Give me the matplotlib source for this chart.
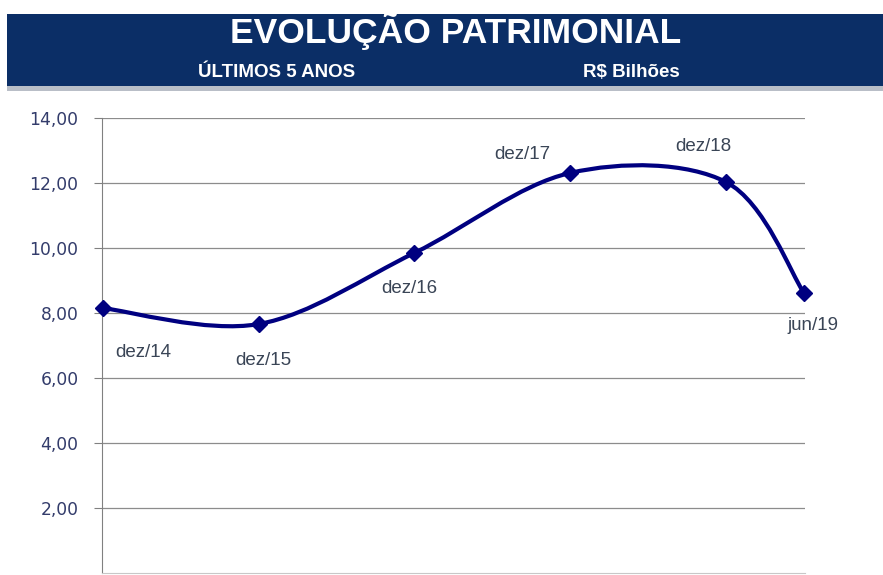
import matplotlib
matplotlib.use("Agg")
import matplotlib.pyplot as plt
from matplotlib.patches import Rectangle, PathPatch
from matplotlib.path import Path

# --- Data (R$ bilhões) ---
periods = ["dez/14", "dez/15", "dez/16", "dez/17", "dez/18", "jun/19"]
positions = [0, 1, 2, 3, 4, 4.5]          # jun/19 is half a year after dez/18
values = [8.15, 7.66, 9.85, 12.31, 12.03, 8.62]
yticks = [2, 4, 6, 8, 10, 12, 14]

# label offsets in pixels (dx, dy) relative to each point
label_offsets = [(40, -44), (5, -36), (-5, -36), (-48, 18), (-23, 36), (9, -33)]

NAVY = "#0b2e66"
LINE = "#000080"
W, H = 883, 575

plt.rcParams["font.family"] = ["Liberation Sans", "DejaVu Sans"]

fig = plt.figure(figsize=(W / 100, H / 100), dpi=100)

# --- Header band ---
fig.patches.append(Rectangle((7 / W, 1 - 91 / H), 1, 5 / H, transform=fig.transFigure,
                             facecolor="#b9bec7", edgecolor="none"))
fig.patches.append(Rectangle((7 / W, 1 - 86 / H), 1, 72 / H, transform=fig.transFigure,
                             facecolor=NAVY, edgecolor="none"))
fig.text(456 / W, 1 - 43 / H, "EVOLUÇÃO PATRIMONIAL", color="white", fontsize=25.5,
         fontweight="bold", ha="center", va="baseline")
fig.text(277 / W, 1 - 77 / H, "ÚLTIMOS 5 ANOS", color="white", fontsize=13.5,
         fontweight="bold", ha="center", va="baseline")
fig.text(631 / W, 1 - 77 / H, "R$ Bilhões", color="white", fontsize=13.5,
         fontweight="bold", ha="center", va="baseline")

# --- Plot area ---
ax = fig.add_axes([102 / W, 2 / H, 703 / W, 455 / H])
ax.set_xlim(-0.006, 4.507)
ax.set_ylim(0, 14)
ax.set_yticks(yticks)
ax.set_yticklabels([f"{v:.2f}".replace(".", ",") for v in yticks],
                   family="DejaVu Sans")
ax.set_xticks([])
ax.tick_params(axis="y", length=6, width=0.8, color="#808080", labelcolor="#333c6b",
               labelsize=12.3, pad=11)
for v in yticks:
    ax.axhline(v, color="#8c8c8c", lw=0.9, zorder=1)
for side in ["top", "right"]:
    ax.spines[side].set_visible(False)
ax.spines["left"].set_color("#808080")
ax.spines["bottom"].set_color("#c8c8c8")

# smoothed line (Catmull-Rom style bezier through the data points)
pts = list(zip(positions, values))
ext = [pts[0]] + pts + [pts[-1]]
verts = [pts[0]]
codes = [Path.MOVETO]
for i in range(1, len(ext) - 2):
    p0, p1, p2, p3 = ext[i - 1], ext[i], ext[i + 1], ext[i + 2]
    c1 = (p1[0] + (p2[0] - p0[0]) / 6, p1[1] + (p2[1] - p0[1]) / 6)
    c2 = (p2[0] - (p3[0] - p1[0]) / 6, p2[1] - (p3[1] - p1[1]) / 6)
    verts += [c1, c2, p2]
    codes += [Path.CURVE4] * 3
ax.add_patch(PathPatch(Path(verts, codes), facecolor="none", edgecolor=LINE, lw=3,
                       zorder=3, capstyle="round", joinstyle="round"))
ax.plot(positions, values, linestyle="none", marker="D", markersize=8, color=LINE,
        zorder=4, clip_on=False)

for x, y, name, (dx, dy) in zip(positions, values, periods, label_offsets):
    ax.annotate(name, (x, y), xytext=(dx, dy), textcoords="offset pixels",
                ha="center", va="center", fontsize=13.5, color="#3a4556",
                annotation_clip=False)

fig.savefig("out.png", dpi=100)
